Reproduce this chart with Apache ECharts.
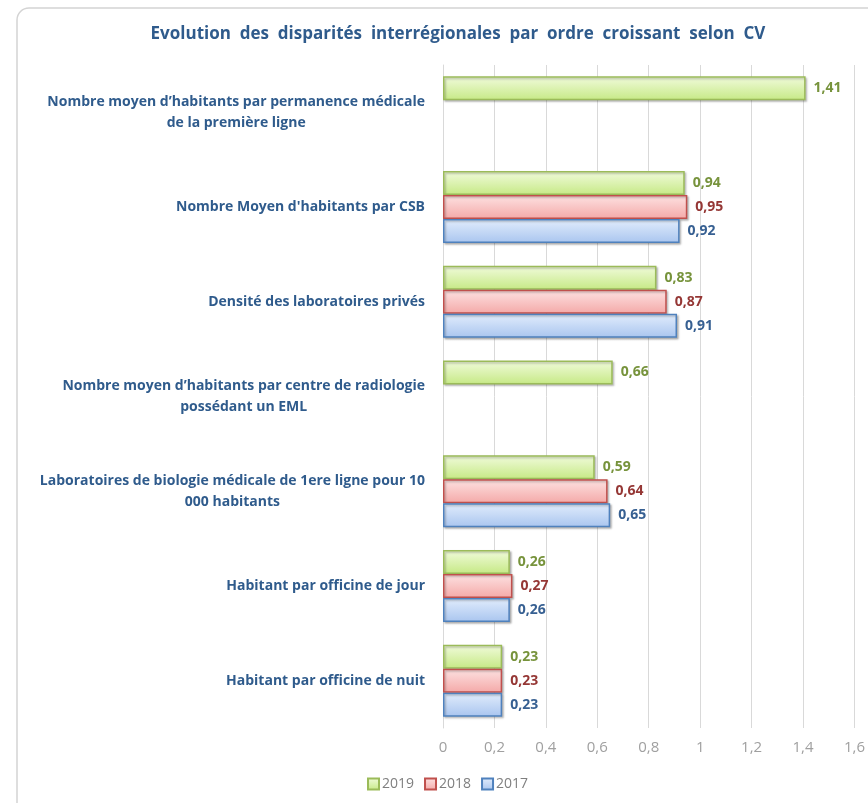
<!DOCTYPE html>
<html>
<head>
<meta charset="utf-8">
<script src="https://cdn.jsdelivr.net/npm/echarts@6/dist/echarts.min.js"></script>
<style>
  html, body { margin: 0; padding: 0; background: #fff; }
  #chart { width: 868px; height: 803px; }
</style>
</head>
<body>
<div id="chart"></div>
<script>
var categories = [
  'Nombre moyen d\u2019habitants par permanence médicale\nde la première ligne',
  'Nombre Moyen d\'habitants par CSB',
  'Densité des laboratoires privés',
  'Nombre moyen d\u2019habitants par centre de radiologie\npossédant un EML',
  'Laboratoires de biologie médicale de 1ere ligne pour 10\n000 habitants',
  'Habitant par officine de jour',
  'Habitant par officine de nuit'
];
var values2019 = [1.41, 0.94, 0.83, 0.66, 0.59, 0.26, 0.23];
var values2018 = [null, 0.95, 0.87, null, 0.64, 0.27, 0.23];
var values2017 = [null, 0.92, 0.91, null, 0.65, 0.26, 0.23];
var xTicks = [0, 0.2, 0.4, 0.6, 0.8, 1, 1.2, 1.4, 1.6];

function comma(v) {
  return String(v).replace('.', ',');
}

function grad(top, bottom) {
  return new echarts.graphic.LinearGradient(0, 0, 0, 1, [
    { offset: 0, color: top },
    { offset: 1, color: bottom }
  ]);
}

function makeSeries(name, data, fillTop, fillBottom, border, labelColor) {
  return {
    name: name,
    type: 'bar',
    data: data,
    barGap: '0%',
    barCategoryGap: '24%',
    itemStyle: {
      color: grad(fillTop, fillBottom),
      borderColor: border,
      borderWidth: 1.5,
      shadowColor: 'rgba(0,0,0,0.25)',
      shadowBlur: 2,
      shadowOffsetX: 1.5,
      shadowOffsetY: 1.5
    },
    label: {
      show: true,
      position: 'right',
      distance: 8,
      color: labelColor,
      fontWeight: 'bold',
      fontSize: 14,
      fontFamily: 'Open Sans',
      formatter: function (p) { return comma(p.value); }
    }
  };
}

var chart = echarts.init(document.getElementById('chart'));

var option = {
  backgroundColor: '#fff',
  animation: false,
  graphic: [{
    type: 'rect',
    shape: { x: 17, y: 8, width: 880, height: 820, r: 12 },
    style: { fill: 'none', stroke: '#d4d4d4', lineWidth: 1.5 },
    z: -10
  }],
  title: {
    text: 'Evolution  des  disparités  interrégionales  par  ordre  croissant  selon  CV',
    left: 453,
    textAlign: 'center',
    top: 21,
    textStyle: {
      color: '#2f5b8c',
      fontSize: 17,
      fontWeight: 'bold',
      fontFamily: 'Open Sans'
    }
  },
  legend: {
    data: ['2019', '2018', '2017'],
    left: 362,
    top: 772,
    itemWidth: 11,
    itemHeight: 11,
    itemGap: 10,
    icon: 'rect',
    textStyle: { color: '#7f7f7f', fontSize: 14, fontFamily: 'Open Sans', padding: [0, 0, 0, -2] }
  },
  grid: { left: 443, right: 13, top: 65, bottom: 75, containLabel: false },
  xAxis: {
    type: 'value',
    min: 0,
    max: 1.6,
    interval: 0.2,
    axisLine: { show: false },
    axisTick: { show: false },
    splitLine: { lineStyle: { color: '#d9d9d9' } },
    axisLabel: {
      color: '#a0a0a0',
      fontSize: 15,
      fontFamily: 'Open Sans',
      margin: 12,
      formatter: function (v) {
        var t = xTicks.filter(function (x) { return Math.abs(x - v) < 1e-9; })[0];
        return comma(t !== undefined ? t : +v.toFixed(1));
      }
    }
  },
  yAxis: {
    type: 'category',
    data: categories,
    inverse: true,
    axisLine: { show: true, lineStyle: { color: '#d9d9d9' } },
    axisTick: { show: false },
    axisLabel: {
      margin: 18,
      align: 'right',
      formatter: function (v) {
        return v.split('\n').map(function (l) { return '{c|' + l + '}'; }).join('\n');
      },
      rich: {
        c: {
          align: 'center',
          color: '#2f5b8c',
          fontWeight: 'bold',
          fontSize: 14,
          fontFamily: 'Open Sans',
          lineHeight: 21
        }
      }
    }
  },
  series: [
    makeSeries('2019', values2019, '#f1fbdc', '#c6e985', '#9bbb59', '#77933c'),
    makeSeries('2018', values2018, '#fde2e2', '#f4a9a8', '#c0504d', '#953735'),
    makeSeries('2017', values2017, '#e2edfc', '#a9c5ef', '#4f81bd', '#376092')
  ]
};

chart.setOption(option);
</script>
</body>
</html>
